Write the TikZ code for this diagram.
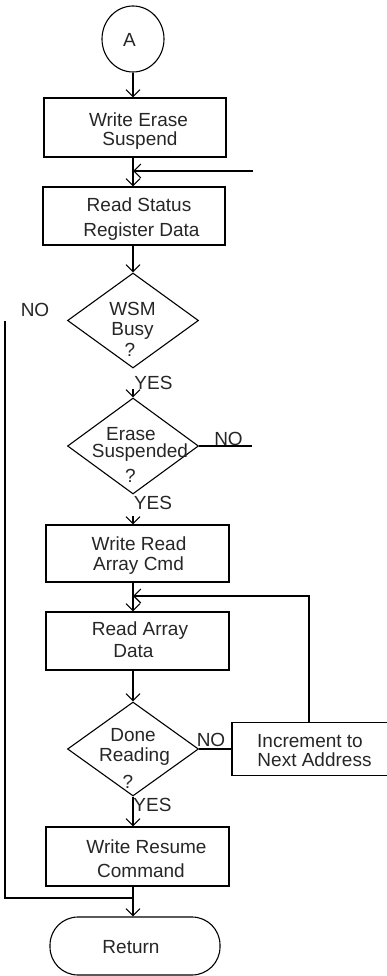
\documentclass[tikz,border=0pt]{standalone}
\usepackage{fontspec}
\setmainfont{Liberation Sans}
\usetikzlibrary{arrows.meta,shapes.geometric,calc}
\begin{document}
\begin{tikzpicture}[x=1pt,y=-1pt,line width=1.1pt,
  arr/.style={-{Straight Barb[length=7pt,width=14pt,line width=1.1pt]}},
  box/.style={draw,rectangle,inner sep=0pt},
  dia/.style={draw,diamond,inner sep=0pt},
  txt/.style={anchor=base,inner sep=0pt,text=black!85,font=\fontsize{19}{19}\selectfont}]
\clip (0,0) rectangle (387,976);
% shapes
\node[draw,ellipse,inner sep=0pt,minimum width=62pt,minimum height=66pt] (A) at (133,39) {};
\node[box,minimum width=182pt,minimum height=59pt] (b1) at (135,127.5) {};
\node[box,minimum width=182pt,minimum height=58pt] (b2) at (134,216) {};
\node[dia,minimum width=131pt,minimum height=95pt] (d1) at (133,320.5) {};
\node[dia,minimum width=131pt,minimum height=96pt] (d2) at (133,446) {};
\node[box,minimum width=183pt,minimum height=57pt] (b3) at (137.5,553.5) {};
\node[box,minimum width=183pt,minimum height=58pt] (b4) at (137.5,641) {};
\node[dia,minimum width=131pt,minimum height=94pt] (d3) at (133,749) {};
\node[box,minimum width=170pt,minimum height=53pt] (inc) at (317,749) {};
\node[box,minimum width=183pt,minimum height=59pt] (b5) at (137.5,856.5) {};
\node[draw,rectangle,rounded corners=28pt,inner sep=0pt,minimum width=170pt,minimum height=58pt] (ret) at (135,946) {};
% texts
\node[txt] (tA) at (129.5,46.5) {A};
\node[txt] (t1a) at (138.5,126.5) {Write Erase};
\node[txt] (t1b) at (140,146) {Suspend};
\node[txt] (t2a) at (139,211.7) {Read Status};
\node[txt] (t2b) at (141.5,236.5) {Register Data};
\node[txt] (d1a) at (132.5,315.3) {WSM};
\node[txt] (d1b) at (132.5,335.3) {Busy};
\node[txt] (d1c) at (130,356) {?};
\node[txt] (d2a) at (131,440.3) {Erase};
\node[txt] (d2b) at (140,457.6) {Suspended};
\node[txt] (d2c) at (130.5,482) {?};
\node[txt] (t3a) at (139,550.5) {Write Read};
\node[txt] (t3b) at (138.5,570.5) {Array Cmd};
\node[txt] (t4a) at (140,635.3) {Read Array};
\node[txt] (t4b) at (133.5,657) {Data};
\node[txt] (d3a) at (133,741) {Done};
\node[txt] (d3b) at (134.5,761) {Reading};
\node[txt] (d3c) at (128,788) {?};
\node[txt] (ia) at (310,747) {Increment to};
\node[txt] (ib) at (314.5,766.5) {Next Address};
\node[txt] (t5a) at (146.5,853) {Write Resume};
\node[txt] (t5b) at (141,877) {Command};
\node[txt] (tr) at (131,953.6) {Return};
% labels
\node[txt] (no1) at (35,316.6) {NO};
\node[txt] (yes1) at (153.5,389.6) {YES};
\node[txt] (no2) at (228.5,445.5) {NO};
\node[txt] (yes2) at (153,509.6) {YES};
\node[txt] (no3) at (211,746.6) {NO};
\node[txt] (yes3) at (152.5,811.6) {YES};
% connectors
\coordinate (in1) at (253,171);
\coordinate (no2end) at (252,446);
\coordinate (lp) at (309,596);
\coordinate (lt) at (5,321);
\coordinate (jn) at (133,898);
\draw[arr] (A.south) -- (b1.north -| A);
\draw[arr] (b1.south -| A) -- (b2.north -| A);
\draw[arr] (in1) -- (in1 -| A);
\draw[arr] (b2.south -| A) -- (d1.north);
\draw[arr] ($(d2.north)+(0,-8)$) -- (d2.north);
\draw (d2.east) -- (no2end);
\draw[arr] ($(b3.north -| A)+(0,-8)$) -- (b3.north -| A);
\draw[arr] (b3.south -| A) -- (b4.north -| A);
\draw[arr] (inc.north -| lp) -- (lp) -- (lp -| A);
\draw[arr] (b4.south -| A) -- (d3.north);
\draw (d3.east) -- (inc.west);
\draw[arr] (d3.south) -- (b5.north -| A);
\draw[arr] (b5.south -| A) -- (ret.north -| A);
\draw (lt) |- (jn);
\end{tikzpicture}
\end{document}
